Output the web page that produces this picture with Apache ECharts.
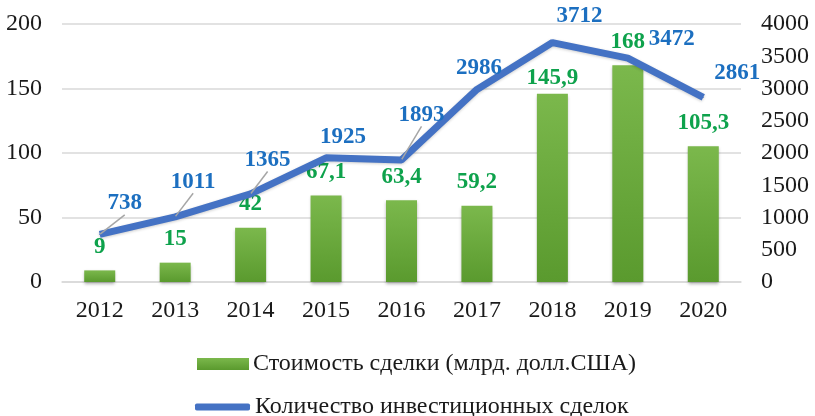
<!DOCTYPE html>
<html>
<head>
<meta charset="utf-8">
<script src="https://cdn.jsdelivr.net/npm/echarts@6/dist/echarts.min.js"></script>
<style>
  html, body { margin: 0; padding: 0; background: #fff; }
  #chart { width: 815px; height: 416px; }
</style>
</head>
<body>
<div id="chart"></div>
<script>
const years = ['2012', '2013', '2014', '2015', '2016', '2017', '2018', '2019', '2020']
const dealValue = [9, 15, 42, 67.1, 63.4, 59.2, 145.9, 168, 105.3]
const dealCount = [738, 1011, 1365, 1925, 1893, 2986, 3712, 3472, 2861]
const leftTicks = [0, 50, 100, 150, 200]
const rightTicks = [0, 500, 1000, 1500, 2000, 2500, 3000, 3500, 4000]

const barName = 'Стоимость сделки (млрд. долл.США)'
const lineName = 'Количество инвестиционных сделок'

// где стоят подписи линии относительно точки (как на исходнике)
const countLabelShift = [[25, -31], [18, -35], [17, -34], [17, -21], [20, -45], [2, -21], [27, -27], [44, -19], [34, -24]]
const countLeader = [true, true, true, false, true, false, false, false, false]
const valueLabelShift = [0, 0, 0, 0, 0, 0, 8, 0, 0]

const font = '"Liberation Serif", "Times New Roman", serif'
const fmtRu = (v) => String(v).replace('.', ',')

const chart = echarts.init(document.getElementById('chart'))

chart.setOption({
  animation: false,
  textStyle: { fontFamily: font },
  grid: { left: 62, right: 74, top: 24, bottom: 134 },
  legend: [
    {
      data: [barName],
      left: 192, top: 347,
      icon: 'rect', itemWidth: 52, itemHeight: 12, itemGap: 5,
      textStyle: { fontFamily: font, fontSize: 24, color: '#1a1a1a', padding: [0, 0, 0, -1] },
    },
    {
      data: [lineName],
      left: 190, top: 390,
      icon: 'roundRect', itemWidth: 55, itemHeight: 7, itemGap: 4,
      textStyle: { fontFamily: font, fontSize: 24, color: '#1a1a1a' },
    },
  ],
  xAxis: {
    type: 'category',
    data: years,
    axisTick: { show: false },
    axisLine: { lineStyle: { color: '#d9d9d9', width: 1.5 } },
    axisLabel: { color: '#1a1a1a', fontSize: 24, margin: 17, fontFamily: font },
  },
  yAxis: [
    {
      type: 'value', min: 0, max: 200, interval: 50,
      axisLabel: {
        color: '#1a1a1a', fontSize: 24, margin: 20, fontFamily: font,
        formatter: (v) => (leftTicks.includes(v) ? String(v) : ''),
      },
      splitLine: { lineStyle: { color: '#d9d9d9', width: 1.5 } },
    },
    {
      type: 'value', min: 0, max: 4000, interval: 500,
      axisLabel: {
        color: '#1a1a1a', fontSize: 24, margin: 20, fontFamily: font,
        formatter: (v) => (rightTicks.includes(v) ? String(v) : ''),
      },
      splitLine: { show: false },
    },
  ],
  series: [
    {
      name: barName,
      type: 'bar',
      yAxisIndex: 0,
      barWidth: 31,
      data: dealValue.map((v, i) => ({
        value: v,
        label: { offset: [0, valueLabelShift[i]] },
      })),
      itemStyle: {
        color: new echarts.graphic.LinearGradient(0, 0, 0, 1, [
          { offset: 0, color: '#7bb84c' },
          { offset: 1, color: '#5a9a2e' },
        ]),
        shadowColor: 'rgba(0,0,0,0.3)',
        shadowBlur: 3,
        shadowOffsetY: 2,
      },
      label: {
        show: true, position: 'top', distance: 12,
        color: '#0ea24c', fontSize: 23, fontWeight: 'bold', fontFamily: font,
        formatter: (p) => fmtRu(p.value),
      },
    },
    {
      name: lineName,
      type: 'line',
      yAxisIndex: 1,
      symbol: 'circle',
      symbolSize: 1,
      showSymbol: true,
      itemStyle: { color: '#4472c4' },
      lineStyle: { color: '#4472c4', width: 7, shadowColor: 'rgba(0,0,0,0.2)', shadowBlur: 3, shadowOffsetY: 1 },
      data: dealCount.map((v, i) => ({
        value: v,
        labelLine: { show: countLeader[i] },
      })),
      label: {
        show: true, position: 'inside',
        color: '#1c6fc0', fontSize: 23, fontWeight: 'bold', fontFamily: font,
      },
      labelLayout: (p) => ({ dx: countLabelShift[p.dataIndex][0], dy: countLabelShift[p.dataIndex][1] }),
      labelLine: { show: false, lineStyle: { color: '#a6a6a6', width: 1.5 } },
      z: 3,
    },
  ],
})
</script>
</body>
</html>
